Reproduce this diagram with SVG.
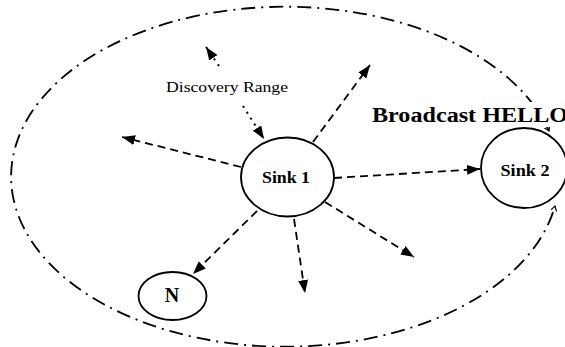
<svg xmlns="http://www.w3.org/2000/svg" width="565" height="347" viewBox="0 0 565 347">
<defs>
<style>
.node{fill:none;stroke:#000;stroke-width:1.8}
.lbl{font-family:"Liberation Serif","Times New Roman",serif;font-weight:bold;fill:#000;text-anchor:middle}
.dash{fill:none;stroke:#000;stroke-width:1.8;stroke-dasharray:8 5}
.dot{fill:none;stroke:#000;stroke-width:2;stroke-dasharray:2 5}
.range{fill:none;stroke:#000;stroke-width:1.8;stroke-dasharray:14 6 2 6}
</style>
<marker id="ah" markerUnits="userSpaceOnUse" markerWidth="14" markerHeight="12" refX="13" refY="5" orient="auto">
<path d="M0,0 L13,5 L0,10 Z" fill="#000"/>
</marker>
<marker id="sm" markerUnits="userSpaceOnUse" markerWidth="8" markerHeight="8" refX="5" refY="3" orient="auto-start-reverse">
<path d="M0,0 L5,3 L0,6" fill="none" stroke="#000" stroke-width="1.2"/>
</marker>
</defs>
<rect width="565" height="347" fill="#fff"/>
<g id="range">
<path class="range" d="M549,131 A274,170 0 1 0 555,206" marker-start="url(#sm)" marker-end="url(#sm)"/>
</g>
<g id="connectors">
<path class="dash" d="M241,167 L122,137" marker-end="url(#ah)"/>
<path class="dash" d="M313,142 L370,65" marker-end="url(#ah)"/>
<path class="dash" d="M334,178 L480,169" marker-end="url(#ah)"/>
<path class="dash" d="M325,202 L414,257" marker-end="url(#ah)"/>
<path class="dash" d="M294,219 L305,293" marker-end="url(#ah)"/>
<path class="dash" d="M257,211 L193,274" marker-end="url(#ah)"/>
<path class="dot" d="M219,66 L206,47" marker-end="url(#ah)"/>
<path class="dot" d="M243,106 L264,139" marker-end="url(#ah)"/>
</g>
<g id="sink1">
<ellipse class="node" cx="287.5" cy="177" rx="46.5" ry="39.5"/>
<text class="lbl" x="286" y="183" font-size="16" textLength="48" lengthAdjust="spacingAndGlyphs">Sink 1</text>
</g>
<g id="sink2">
<ellipse class="node" cx="524" cy="168" rx="43" ry="40"/>
<text class="lbl" x="525" y="176" font-size="16" textLength="49" lengthAdjust="spacingAndGlyphs">Sink 2</text>
</g>
<g id="n">
<ellipse class="node" cx="172.5" cy="296" rx="34" ry="24"/>
<text class="lbl" x="172" y="302" font-size="20">N</text>
</g>
<g id="labels">
<text x="166" y="92" font-family="Liberation Serif, Times New Roman, serif" font-size="15" textLength="122" lengthAdjust="spacingAndGlyphs">Discovery Range</text>
<rect x="370" y="102" width="195" height="25" fill="#fff"/>
<text x="372" y="122" font-family="Liberation Serif, Times New Roman, serif" font-weight="bold" font-size="20" textLength="196" lengthAdjust="spacingAndGlyphs">Broadcast HELLO</text>
</g>
</svg>
